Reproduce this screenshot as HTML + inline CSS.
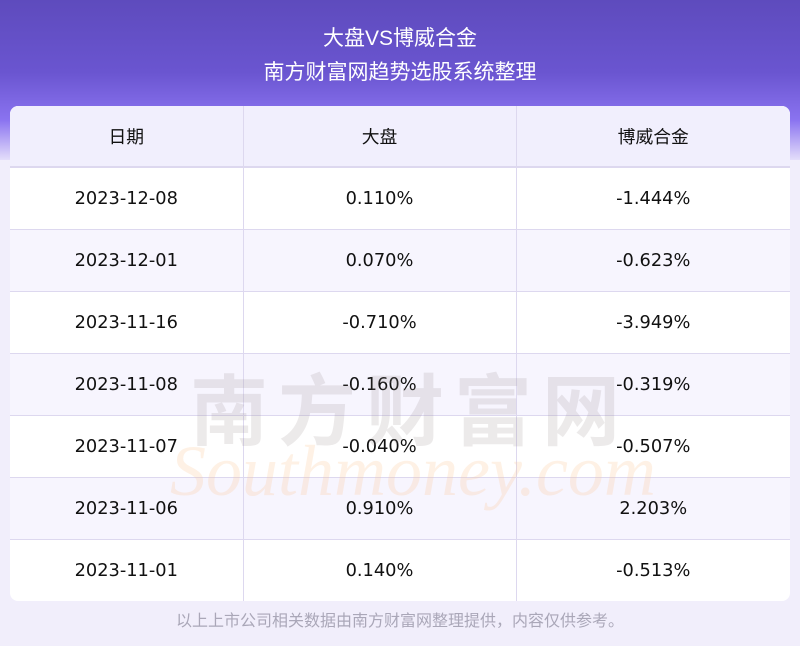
<!DOCTYPE html>
<html><head><meta charset="utf-8"><style>
body{margin:0;width:800px;height:646px;overflow:hidden;font-family:"DejaVu Sans","Noto Sans CJK SC",sans-serif;background:#f1eefb;position:relative}
.hd{position:absolute;left:0;top:0;width:800px;height:160px;background:linear-gradient(180deg,#5e4bbd 0%,#6a55d0 45%,#8a73f0 75%,#e4defa 100%)}
.t{position:absolute;left:0;width:800px;text-align:center;color:#fff;font-size:21px;font-family:"Liberation Sans","Noto Sans CJK SC",sans-serif}
table{position:absolute;left:10px;top:106px;width:780px;border-collapse:collapse;background:#fff;border-radius:8px;overflow:hidden;font-size:17.8px;color:#111}
td{height:61px;text-align:center;border-left:1px solid #ddd8ef;border-bottom:1px solid #ddd8ef;padding:0}
td:first-child{border-left:none}
tr:first-child td{background:#f1effd;height:60px;border-bottom:2px solid #ddd8ef}
tr:nth-child(odd):not(:first-child) td{background:#f7f5fe}
tr:last-child td{border-bottom:none}
.wm{position:absolute;left:190px;top:350px;font-size:78px;color:rgba(150,140,140,.18);letter-spacing:10px;font-weight:bold;font-family:"Noto Sans CJK SC",sans-serif}
.wm2{position:absolute;left:170px;top:430px;font-size:72px;font-family:"Liberation Serif",serif;font-style:italic;color:rgba(250,200,150,.25)}
.ft{position:absolute;left:0;top:607px;width:800px;text-align:center;font-size:16px;color:#aaa7b8;font-family:"Noto Sans CJK SC",sans-serif}
</style></head><body>
<div class="hd"></div>
<div class="t" style="top:22px">大盘VS博威合金</div>
<div class="t" style="top:56px">南方财富网趋势选股系统整理</div>
<table>
<colgroup><col style="width:233px"><col style="width:273px"><col style="width:274px"></colgroup>
<tr><td>日期</td><td>大盘</td><td>博威合金</td></tr>
<tr><td>2023-12-08</td><td>0.110%</td><td>-1.444%</td></tr>
<tr><td>2023-12-01</td><td>0.070%</td><td>-0.623%</td></tr>
<tr><td>2023-11-16</td><td>-0.710%</td><td>-3.949%</td></tr>
<tr><td>2023-11-08</td><td>-0.160%</td><td>-0.319%</td></tr>
<tr><td>2023-11-07</td><td>-0.040%</td><td>-0.507%</td></tr>
<tr><td>2023-11-06</td><td>0.910%</td><td>2.203%</td></tr>
<tr><td>2023-11-01</td><td>0.140%</td><td>-0.513%</td></tr>
</table>
<div class="wm">南方财富网</div>
<div class="wm2">Southmoney.com</div>
<div class="ft">以上上市公司相关数据由南方财富网整理提供，内容仅供参考。</div>
</body></html>
